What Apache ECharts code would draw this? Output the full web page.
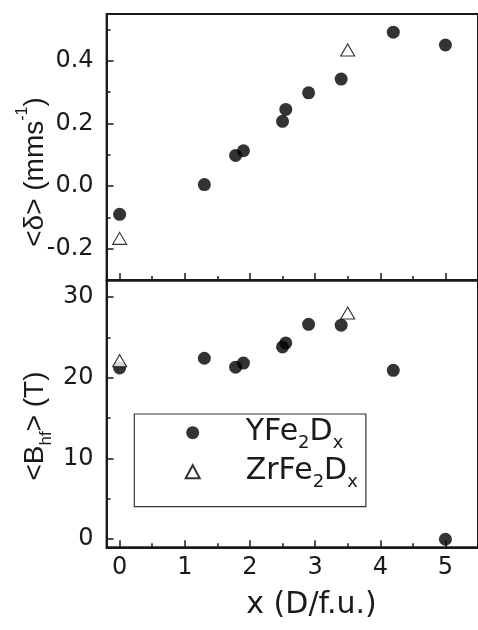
<!DOCTYPE html>
<html><head><meta charset="utf-8">
<script src="https://cdn.jsdelivr.net/npm/echarts@6/dist/echarts.min.js"></script>
<style>html,body{margin:0;padding:0;background:#fff}#c{width:478px;height:630px}</style>
</head><body><div id="c"></div>
<script>
// ---- data ----
const xYFe = [0, 1.3, 1.78, 1.9, 2.5, 2.55, 2.9, 3.4, 4.2, 5.0];
const deltaYFe = [-0.09, 0.005, 0.098, 0.113, 0.207, 0.245, 0.298, 0.342, 0.492, 0.451];
const bhfYFe = [21.2, 22.4, 21.3, 21.8, 23.8, 24.3, 26.6, 26.5, 20.9, 0.0];
const xZr = [0, 3.5];
const deltaZr = [-0.167, 0.435];
const bhfZr = [22.1, 28.0];
const xMajor = [0, 1, 2, 3, 4, 5];
const xMinor = [0.5, 1.5, 2.5, 3.5, 4.5];
const dMajor = [-0.2, 0, 0.2, 0.4];
const dMinor = [-0.1, 0.1, 0.3, 0.5];
const bMajor = [0, 10, 20, 30];
const bMinor = [5, 15, 25];
const seriesNames = ['YFe2Dx', 'ZrFe2Dx'];

// ---- style ----
const FONT = '"Liberation Sans", Arial, sans-serif';
const WFONT = '"DejaVu Sans", sans-serif';
const INK = '#1a1a1a';
const line = {color: INK, width: 2};
const tickLine = {color: INK, width: 1.5};
const zip = (a, b) => a.map((v, i) => [v, b[i]]);

function xAx(grid, values, len, labels, showLine) {
  return {
    gridIndex: grid, type: 'value', min: -0.2, max: 5.5, position: 'bottom',
    axisLine: {show: showLine, onZero: false, lineStyle: line},
    axisTick: {show: true, inside: true, length: len, customValues: values, lineStyle: tickLine},
    axisLabel: labels ? {show: true, customValues: values, fontSize: 24, fontFamily: WFONT, color: INK, margin: 8} : {show: false},
    splitLine: {show: false}
  };
}
function yAx(grid, min, max, values, len, labels, showLine, fmt) {
  return {
    gridIndex: grid, type: 'value', min: min, max: max, position: 'left',
    axisLine: {show: showLine, onZero: false, lineStyle: line},
    axisTick: {show: true, inside: true, length: len, customValues: values, lineStyle: tickLine},
    axisLabel: labels ? {show: true, customValues: values, fontSize: 24, fontFamily: WFONT, color: INK, margin: 13, formatter: fmt} : {show: false},
    splitLine: {show: false}
  };
}

const circleStyle = {symbol: 'circle', symbolSize: 13, itemStyle: {color: '#000'}};
const triStyle = {symbol: 'triangle', symbolSize: [14, 12], itemStyle: {color: '#fff', borderColor: '#000', borderWidth: 1.1}};

const richMain = {fontSize: 28, lineHeight: 40, fontFamily: FONT, fill: INK, color: INK};
const titleRich = {
  n: richMain,
  p: {fontSize: 16, lineHeight: 10, verticalAlign: 'top', fontFamily: FONT, fill: INK, color: INK},
  s: {fontSize: 17, lineHeight: 10, verticalAlign: 'bottom', fontFamily: FONT, fill: INK, color: INK}
};

const chart = echarts.init(document.getElementById('c'), null, {renderer: 'canvas'});
chart.setOption({
  animation: false,
  backgroundColor: '#fff',
  grid: [
    {left: 106.6, top: 14, width: 382, height: 266, show: true, borderColor: INK, borderWidth: 2},
    {left: 106.6, top: 280.7, width: 382, height: 266.6, show: true, borderColor: INK, borderWidth: 2}
  ],
  xAxis: [
    xAx(0, xMajor, 7, false, true),
    xAx(0, xMinor, 4, false, false),
    xAx(1, xMajor, 7, true, true),
    xAx(1, xMinor, 4, false, false)
  ],
  yAxis: [
    yAx(0, -0.3, 0.55, dMajor, 7, true, true, v => v.toFixed(1)),
    yAx(0, -0.3, 0.55, dMinor, 4, false, false),
    yAx(1, -1, 32, bMajor, 7, true, true, v => String(v)),
    yAx(1, -1, 32, bMinor, 4, false, false)
  ],
  legend: {
    orient: 'vertical', left: 134.3, top: 414,
    padding: [3.7, 8, 15, 50.4],
    itemWidth: 14, itemHeight: 13, itemGap: 4, symbolKeepAspect: true,
    borderColor: '#333', borderWidth: 1.2,
    data: seriesNames,
    formatter: n => n === 'YFe2Dx' ? '{g| }{n|YFe}{s|2}{n|D}{s|x}' : '{g| }{n|ZrFe}{s|2}{n|D}{s|x}',
    textStyle: {
      fontFamily: WFONT, fontSize: 30, color: INK,
      rich: {
        g: {width: 41, lineHeight: 40, fontSize: 10},
        n: {fontSize: 30, lineHeight: 40, fontFamily: WFONT, color: INK},
        s: {fontSize: 18, lineHeight: 10, verticalAlign: 'bottom', fontFamily: WFONT, color: INK}
      }
    }
  },
  series: [
    Object.assign({type: 'scatter', name: seriesNames[0], xAxisIndex: 0, yAxisIndex: 0, data: zip(xYFe, deltaYFe)}, circleStyle),
    Object.assign({type: 'scatter', name: seriesNames[1], xAxisIndex: 0, yAxisIndex: 0, data: zip(xZr, deltaZr)}, triStyle),
    Object.assign({type: 'scatter', name: seriesNames[0], xAxisIndex: 2, yAxisIndex: 2, data: zip(xYFe, bhfYFe)}, circleStyle),
    Object.assign({type: 'scatter', name: seriesNames[1], xAxisIndex: 2, yAxisIndex: 2, data: zip(xZr, bhfZr)}, triStyle)
  ],
  graphic: [
    {type: 'text', x: 35, y: 172, rotation: Math.PI / 2,
     style: {text: '{n|<δ> (mms}{p|-1}{n|)}', rich: titleRich, align: 'center', verticalAlign: 'middle', fontFamily: FONT, fontSize: 28, fill: INK}},
    {type: 'text', x: 35, y: 426, rotation: Math.PI / 2,
     style: {text: '{n|<B}{s|hf}{n|> (T)}', rich: titleRich, align: 'center', verticalAlign: 'middle', fontFamily: FONT, fontSize: 28, fill: INK}},
    {type: 'text', x: 311.5, y: 605,
     style: {text: 'x (D/f.u.)', align: 'center', verticalAlign: 'middle', fontFamily: WFONT, fontSize: 30, fill: INK}}
  ]
});
</script></body></html>
